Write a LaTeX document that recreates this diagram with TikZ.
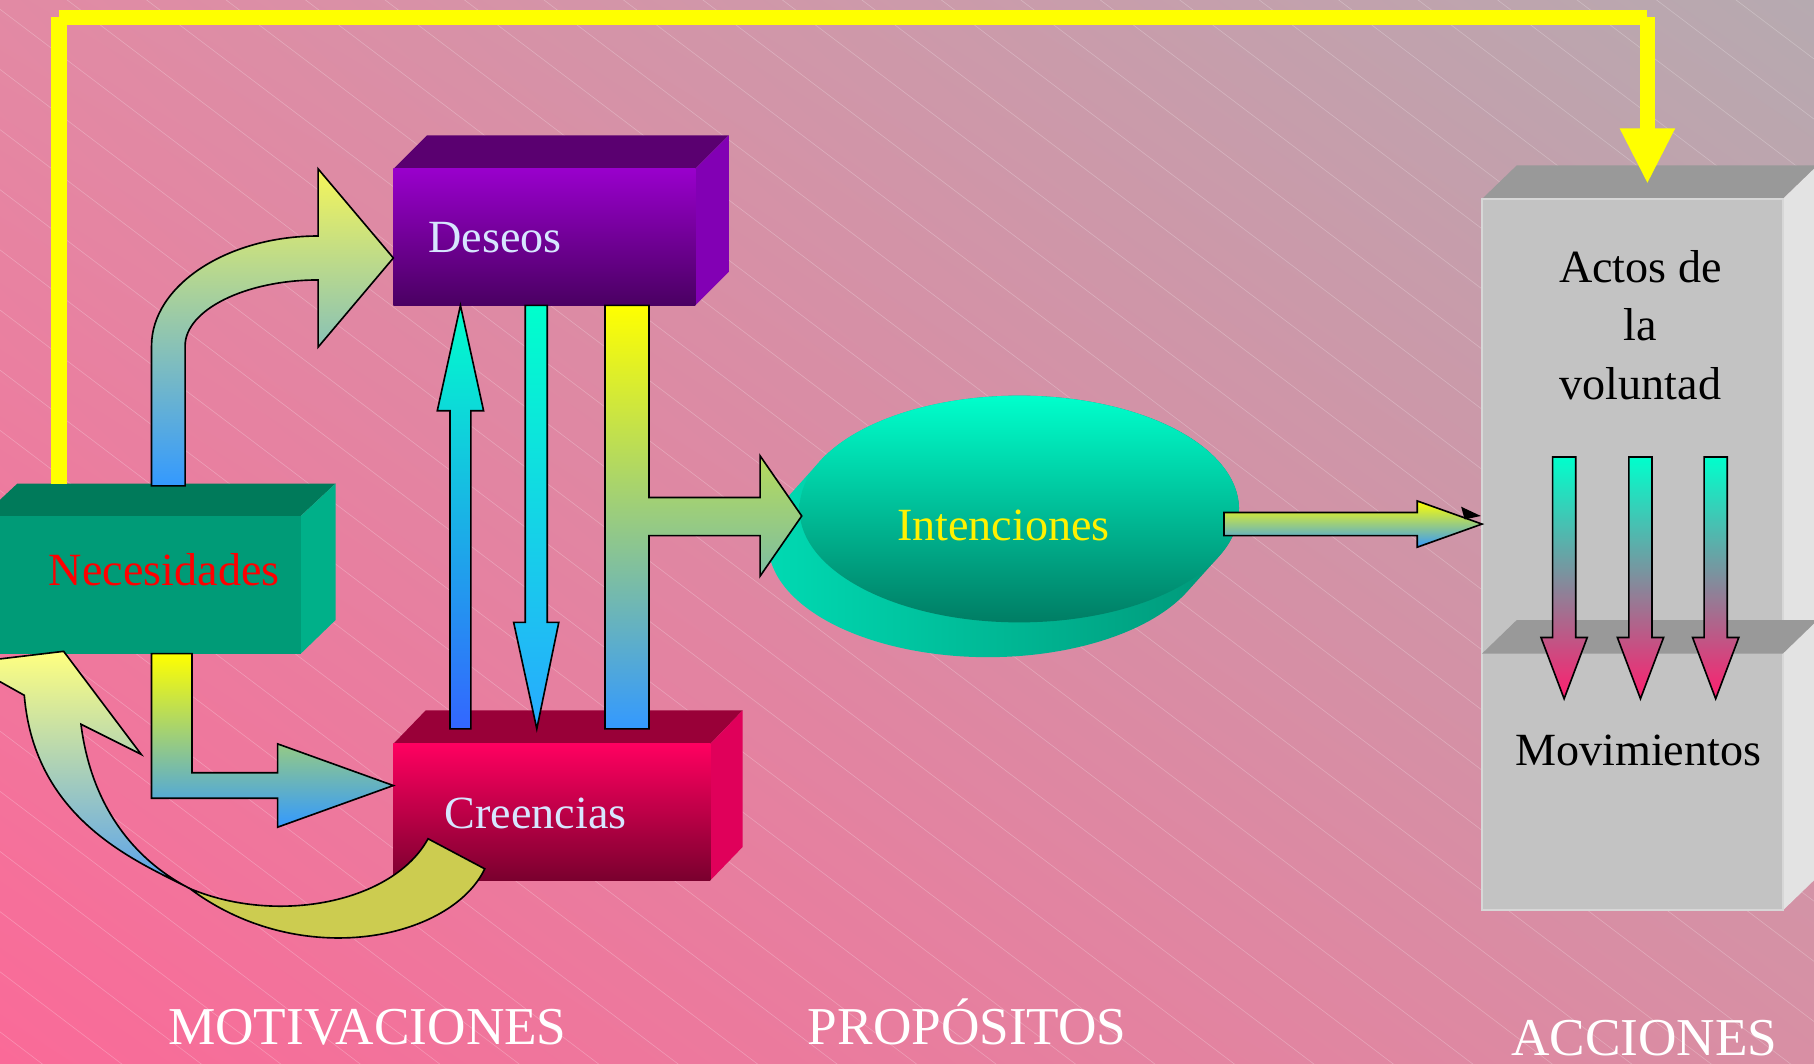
\documentclass[tikz,border=0pt]{standalone}
\usepackage{fontspec}
\setmainfont{Liberation Serif}
\usetikzlibrary{shadings}

\tikzset{
	blockArrow/.style={draw=black, line width=0.8pt, line join=miter},
	boxText/.style={inner sep=0pt, font=\fontsize{22.7}{28.6}\selectfont},
	stageText/.style={inner sep=0pt, text=white, font=\fontsize{26.2}{30}\selectfont, anchor=base west},
	hatchLine/.style={white, opacity=0.25, line width=0.3pt},
	yellowLine/.style={yellowFrame, line width=0.26cm, line cap=butt}
}

\begin{document}
\begin{tikzpicture}[x=0.02cm, y=-0.02cm]

		\definecolor{bgUpperLeft}{RGB}{226,138,164}
		\definecolor{bgUpperRight}{RGB}{182,170,176}
		\definecolor{bgLowerLeft}{RGB}{250,106,152}
		\definecolor{bgLowerRight}{RGB}{216,143,164}
		\definecolor{yellowFrame}{RGB}{255,255,0}
		\definecolor{necFront}{RGB}{0,155,119}
		\definecolor{necTop}{RGB}{0,122,90}
		\definecolor{necSide}{RGB}{0,176,137}
		\definecolor{desFrontTop}{RGB}{153,0,204}
		\definecolor{desFrontBottom}{RGB}{74,0,98}
		\definecolor{desTop}{RGB}{90,0,112}
		\definecolor{desSide}{RGB}{130,0,180}
		\definecolor{creFrontTop}{RGB}{255,0,96}
		\definecolor{creFrontBottom}{RGB}{122,0,46}
		\definecolor{creTop}{RGB}{153,0,56}
		\definecolor{creSide}{RGB}{224,0,90}
		\definecolor{lightText}{RGB}{215,230,255}
		\definecolor{intTop}{RGB}{0,255,204}
		\definecolor{intBottom}{RGB}{0,125,100}
		\definecolor{intSideLeft}{RGB}{0,222,182}
		\definecolor{intSideRight}{RGB}{0,145,115}
		\definecolor{grayFront}{RGB}{195,195,195}
		\definecolor{grayEdge}{RGB}{215,215,215}
		\definecolor{grayTop}{RGB}{153,153,153}
		\definecolor{graySide}{RGB}{227,227,227}
		\definecolor{arrYellow}{RGB}{255,255,0}
		\definecolor{arrPale}{RGB}{245,245,90}
		\definecolor{arrPaler}{RGB}{255,255,128}
		\definecolor{arrBlue}{RGB}{51,153,255}
		\definecolor{arrSoftBlue}{RGB}{85,160,240}
		\definecolor{arrCyan}{RGB}{0,255,204}
		\definecolor{arrDeepBlue}{RGB}{51,102,255}
		\definecolor{arrSkyBlue}{RGB}{40,170,255}
		\definecolor{arrMauve}{RGB}{200,145,145}
		\definecolor{arrRed}{RGB}{255,30,110}
		\definecolor{oliveBand}{RGB}{204,204,80}

		\useasboundingbox (0,0) rectangle (1568,919);

		% background
		\shade[upper left=bgUpperLeft, upper right=bgUpperRight, lower left=bgLowerLeft, lower right=bgLowerRight] (0,0) rectangle (1568,919);
		\begin{scope}
			\clip (0,0) rectangle (1568,919);
			\foreach \c in {-1188,-1136,...,904}
				\draw[hatchLine] (0,\c) -- (1568,\c+1187);
		\end{scope}

		% Necesidades
		\fill[necTop] (-15,446) -- (15,418) -- (290,418) -- (260,446) -- cycle;
		\fill[necSide] (260,446) -- (290,418) -- (290,536) -- (260,565) -- cycle;
		\fill[necFront] (-15,446) rectangle (260,565);
		\node[boxText, text=red, anchor=base west] (nec) at (42,506) {Necesidades};

		% Deseos
		\fill[desTop] (340,146) -- (369,117) -- (630,117) -- (601,146) -- cycle;
		\fill[desSide] (601,146) -- (630,117) -- (630,235) -- (601,264) -- cycle;
		\shade[top color=desFrontTop, bottom color=desFrontBottom] (340,146) rectangle (601,264);
		\node[boxText, text=lightText, anchor=base west] (des) at (370,218) {Deseos};

		% Creencias
		\fill[creTop] (340,643) -- (368,614) -- (642,614) -- (614,643) -- cycle;
		\fill[creSide] (614,643) -- (642,614) -- (642,732) -- (614,761) -- cycle;
		\shade[top color=creFrontTop, bottom color=creFrontBottom] (340,643) rectangle (614,761);
		\node[boxText, text=lightText, anchor=base west] (cre) at (384,716) {Creencias};

		% Intenciones
		\shade[left color=intSideLeft, right color=intSideRight]
			(1053.3,481.3) -- (1026.3,511.3) arc[start angle=-24.9, end angle=-204.9, x radius=3.8cm, y radius=1.96cm]
			-- (708.7,398.7) arc[start angle=155.1, end angle=-24.9, x radius=3.8cm, y radius=1.96cm] -- cycle;
		\shade[top color=intTop, bottom color=intBottom] (881,440) ellipse [x radius=3.8cm, y radius=1.96cm];
		\node[boxText, text=yellow, anchor=base west] (int) at (775,467) {Intenciones};

		% Actos de la voluntad / Movimientos
		\fill[grayTop] (1281,172) -- (1311,143) -- (1571,143) -- (1541,172) -- cycle;
		\fill[graySide] (1541,172) -- (1571,143) -- (1571,758) -- (1541,787) -- cycle;
		\filldraw[fill=grayFront, draw=grayEdge, line width=1pt] (1281,172) rectangle (1541,787);
		\fill[grayTop] (1281,565) -- (1311,536) -- (1571,536) -- (1541,565) -- cycle;
		\node[boxText, align=center, anchor=base] (act) at (1418,345) {Actos de\\la\\voluntad};
		\node[boxText, anchor=base] (mov) at (1416,662) {Movimientos};

		% arrows
		\shadedraw[blockArrow, top color=arrPale, bottom color=arrBlue]
			(131,420) -- (131,299) .. controls (131,247) and (196,204) .. (275,204) -- (275,146) -- (340,223)
			-- (275,300) -- (275,242) .. controls (212,242) and (160,268) .. (160,299) -- (160,420) -- cycle;
		\shadedraw[blockArrow, top color=arrCyan, bottom color=arrDeepBlue]
			(389,630) -- (389,355) -- (378,355) -- (398,264) -- (418,355) -- (407,355) -- (407,630) -- cycle;
		\shadedraw[blockArrow, top color=arrCyan, bottom color=arrSkyBlue]
			(454,264) -- (473,264) -- (473,538) -- (483,538) -- (464,630) -- (444,538) -- (454,538) -- cycle;
		\shadedraw[blockArrow, top color=arrYellow, bottom color=arrBlue]
			(523,264) -- (561,264) -- (561,430) -- (657,430) -- (657,394) -- (693,446) -- (657,498)
			-- (657,463) -- (561,463) -- (561,630) -- (523,630) -- cycle;
		\shadedraw[blockArrow, top color=arrYellow, bottom color=arrBlue]
			(131,565) -- (166,565) -- (166,668) -- (240,668) -- (240,643) -- (340,679) -- (240,715)
			-- (240,690) -- (131,690) -- cycle;
		\shadedraw[blockArrow, top color=arrYellow, bottom color=arrBlue]
			(1058,443) -- (1225,443) -- (1225,433) -- (1281,453) -- (1225,473) -- (1225,463) -- (1058,463) -- cycle;
		\fill[black] (1263,438) -- (1280,446) -- (1266,449) -- cycle;
		\foreach \x in {1352,1418,1483}
			\shadedraw[blockArrow, top color=arrCyan, middle color=arrMauve, bottom color=arrRed]
				(\x-10,395) -- (\x+10,395) -- (\x+10,551) -- (\x+20,551) -- (\x,604) -- (\x-20,551) -- (\x-10,551) -- cycle;

		% curved arrow back to Necesidades
		\filldraw[blockArrow, fill=oliveBand]
			(370,725) .. controls (340,780) and (240,800) .. (164,768)
			.. controls (260,840) and (390,812) .. (419,751) -- cycle;
		\shadedraw[blockArrow, top color=arrPaler, bottom color=arrSoftBlue]
			(55,563) -- (122,652) -- (70,626) .. controls (78,690) and (110,740) .. (164,768)
			.. controls (120,745) and (30,710) .. (21,601) -- (-29,573) -- cycle;

		% yellow line
		\coordinate (necTopEnd) at (51,418);
		\coordinate (cornerLeft) at (51,15);
		\coordinate (cornerRight) at (1424,15);
		\coordinate (actTopEnd) at (1424,112);
		\draw[yellowLine] (necTopEnd) -- (cornerLeft);
		\draw[yellowLine] (cornerLeft) -- (cornerRight);
		\draw[yellowLine] (cornerRight) -- (actTopEnd);
		\fill[yellowFrame] (1400,111) -- (1448,111) -- (1424,158) -- cycle;

		\node[stageText] (motiv) at (145,903) {MOTIVACIONES};
		\node[stageText] (prop) at (698,903) {PROPÓSITOS};
		\node[stageText] (acc) at (1306,912) {ACCIONES};

	\end{tikzpicture}
\end{document}
